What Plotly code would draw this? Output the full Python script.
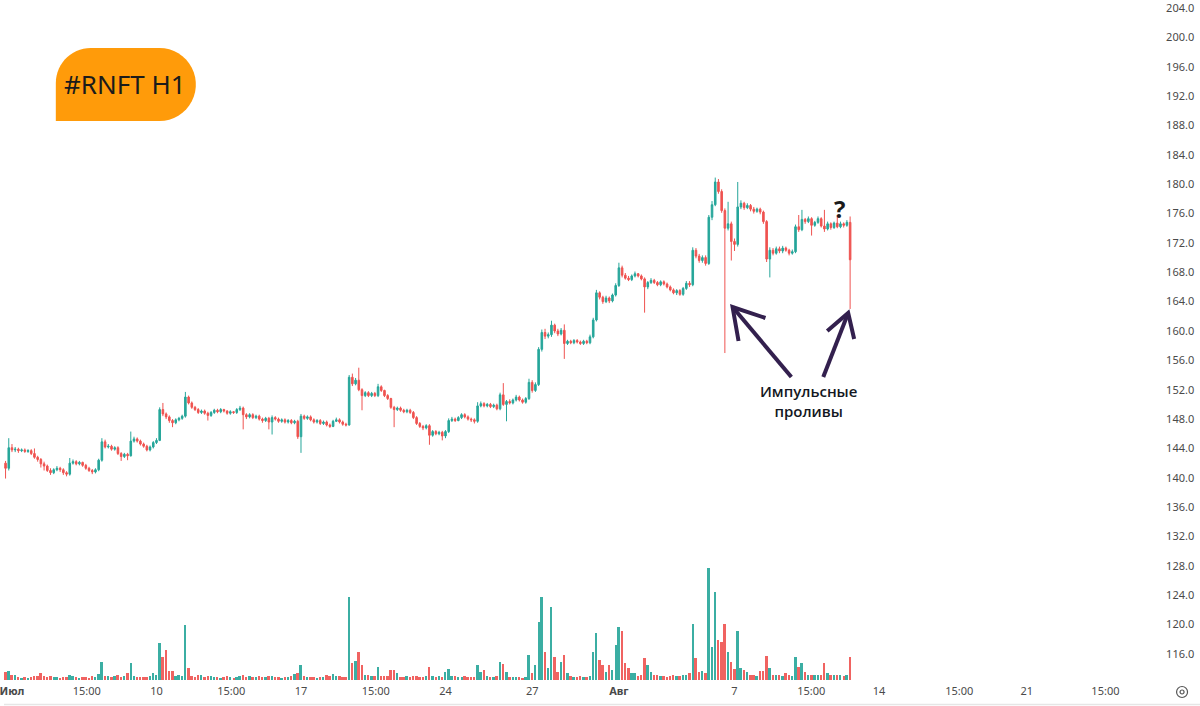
import numpy as np
import plotly.graph_objects as go

W, H = 1200, 706

# ---------------- data (hourly candles, index 0 = 3 Jul 10:00) ----------------
start_index = -3
opens = [
    142.2, 142.0, 141.3,
    144.1, 143.8, 143.9, 143.7, 143.8, 143.6, 143.7, 143.3, 142.8,
    142.5, 141.9, 141.6, 141.0, 140.7, 141.1, 141.3, 141.1, 140.7,
    140.5, 142.0, 142.2, 141.9, 142.1, 141.7, 141.3, 141.0, 140.8,
    141.1, 142.4, 144.9, 144.2, 144.3, 143.9, 144.1, 143.3, 142.9,
    143.2, 143.0, 145.0, 145.3, 145.0, 144.6, 144.3, 143.8, 144.2,
    144.8, 145.1, 149.3, 148.7, 148.3, 147.8, 147.5, 147.9, 148.1,
    148.4, 151.0, 150.2, 149.6, 149.3, 148.9, 149.1, 148.8, 148.5,
    148.9, 149.2, 149.0, 149.3, 149.1, 148.8, 149.0, 148.9, 149.3,
    149.5, 148.6, 148.3, 148.6, 148.2, 148.4, 148.0, 147.8, 148.1,
    147.6, 148.2, 148.0, 147.7, 147.9, 147.6, 147.8, 147.5, 147.7,
    145.6, 148.4, 148.1, 148.3, 147.9, 147.6, 147.8, 147.4, 147.6,
    147.2, 147.0, 147.7, 147.9, 147.6, 147.3, 147.2, 153.7, 152.8,
    153.3, 152.0, 151.2, 151.6, 151.2, 151.5, 151.2, 152.4, 151.9,
    151.2, 150.8, 149.6, 149.3, 149.5, 149.2, 149.0, 149.2, 148.9,
    148.2, 147.4, 147.0, 146.8, 147.1, 145.8, 146.3, 146.0, 146.2,
    145.7, 146.3, 147.8, 148.0, 147.8, 148.2, 148.6, 148.3, 148.0,
    147.9, 147.7, 149.8, 150.1, 149.8, 150.0, 149.7, 149.9, 149.4,
    151.3, 150.0, 150.4, 150.2, 150.6, 151.0, 150.6, 150.3, 150.8,
    153.0, 151.9, 152.7, 157.5, 159.8, 159.3, 159.5, 160.8, 160.0,
    159.6, 160.1, 158.3, 158.6, 158.4, 158.7, 158.5, 158.3, 158.6,
    158.4, 159.2, 161.5, 165.2, 164.6, 164.0, 164.5, 164.1, 164.9,
    166.2, 168.6, 167.6, 167.2, 167.0, 167.5, 167.8, 167.5, 167.1,
    166.0, 166.6, 166.9, 166.6, 166.3, 166.7, 166.4, 166.0, 165.6,
    165.2, 165.5, 165.0, 165.8, 166.5, 166.3, 171.0, 170.2, 169.6,
    170.0, 169.2, 175.5, 177.2, 180.3, 179.0, 176.4, 174.0, 174.6,
    172.2, 171.8, 176.9, 177.4, 176.8, 177.1, 176.6, 176.3, 176.6,
    176.2, 174.9, 169.8, 171.0, 170.6, 171.2, 170.9, 171.3, 171.0,
    170.6, 170.8, 174.2, 173.8, 175.2, 174.9, 175.3, 174.4, 174.8,
    175.3, 174.3, 173.9, 174.6, 174.1, 174.7, 174.2, 174.6, 174.4,
    174.8,
]
highs = [
    142.6, 142.3, 145.4,
    144.6, 144.2, 144.1, 144.0, 144.0, 143.9, 143.9, 144.0, 143.0,
    142.7, 142.2, 141.8, 141.3, 141.3, 141.6, 141.5, 141.3, 140.9,
    142.7, 142.5, 142.4, 142.3, 142.2, 141.9, 141.5, 141.2, 141.3,
    142.6, 145.4, 145.2, 144.6, 144.5, 144.3, 144.3, 143.5, 143.4,
    143.4, 146.3, 145.6, 145.5, 145.2, 144.8, 144.5, 144.4, 145.0,
    145.4, 149.6, 150.2, 148.9, 148.5, 148.0, 148.1, 148.3, 148.6,
    151.7, 151.2, 150.4, 149.8, 149.5, 149.3, 149.3, 149.0, 149.1,
    149.4, 149.4, 149.5, 149.4, 149.2, 149.2, 149.1, 149.5, 149.8,
    149.7, 148.8, 148.8, 148.8, 148.6, 148.6, 148.2, 148.3, 148.3,
    148.5, 148.4, 148.2, 148.1, 148.1, 148.0, 148.0, 147.9, 147.9,
    148.7, 148.6, 148.5, 148.5, 148.1, 148.0, 148.0, 147.8, 147.8,
    147.4, 147.9, 148.2, 148.1, 147.8, 147.5, 154.0, 154.2, 153.6,
    155.0, 152.2, 151.8, 151.8, 151.7, 151.7, 152.8, 152.6, 152.0,
    151.4, 150.9, 149.8, 149.7, 149.7, 149.4, 149.4, 149.4, 149.1,
    148.4, 147.6, 147.2, 147.3, 147.3, 146.5, 146.5, 146.4, 146.4,
    146.5, 148.1, 148.3, 148.2, 148.4, 148.8, 148.8, 148.5, 148.2,
    148.1, 150.3, 150.4, 150.3, 150.2, 150.2, 150.1, 150.1, 151.6,
    152.9, 150.6, 150.7, 150.8, 151.3, 151.2, 150.8, 151.0, 153.5,
    153.3, 153.0, 157.8, 160.2, 160.3, 159.8, 161.4, 161.0, 160.3,
    160.4, 160.9, 158.8, 158.8, 158.9, 158.9, 158.7, 158.8, 158.8,
    159.5, 161.8, 165.6, 165.4, 164.8, 164.8, 164.7, 165.1, 166.5,
    169.3, 168.9, 167.9, 167.5, 167.7, 168.1, 167.9, 167.7, 167.3,
    166.8, 167.2, 167.1, 166.8, 166.9, 166.9, 166.6, 166.2, 165.8,
    165.7, 165.7, 166.0, 166.8, 166.8, 171.4, 171.3, 170.5, 170.3,
    170.3, 175.8, 177.7, 180.9, 180.7, 179.3, 176.7, 177.6, 174.9,
    172.6, 180.3, 177.8, 177.6, 177.4, 177.3, 176.9, 176.8, 176.8,
    176.4, 175.1, 171.4, 171.3, 171.5, 171.5, 171.6, 171.5, 171.2,
    171.1, 174.5, 175.8, 176.5, 175.4, 175.6, 175.5, 175.0, 175.6,
    175.5, 176.5, 174.9, 174.8, 174.9, 175.8, 174.9, 174.8, 175.1,
    175.6,
]
lows = [
    141.7, 139.9, 141.0,
    143.5, 143.5, 143.4, 143.5, 143.4, 143.4, 143.1, 142.6, 142.2,
    141.4, 141.0, 140.8, 140.4, 140.5, 140.9, 140.8, 140.4, 140.2,
    140.3, 141.8, 141.7, 141.7, 141.5, 141.1, 140.8, 140.5, 140.6,
    140.9, 142.2, 144.0, 144.0, 143.7, 143.7, 143.1, 142.3, 142.7,
    142.4, 142.9, 144.8, 144.8, 144.4, 144.1, 143.6, 143.6, 144.0,
    144.6, 145.0, 148.4, 148.0, 147.5, 146.9, 147.3, 147.7, 147.9,
    148.2, 150.0, 149.4, 149.1, 148.7, 148.7, 148.6, 147.8, 148.3,
    148.7, 148.8, 148.8, 148.9, 148.6, 148.6, 148.7, 148.7, 149.1,
    146.6, 148.0, 148.1, 148.0, 148.0, 147.8, 147.5, 147.6, 146.6,
    145.9, 147.8, 147.5, 147.5, 147.4, 147.4, 147.3, 147.3, 145.3,
    143.4, 147.9, 147.9, 147.7, 147.4, 147.4, 147.2, 147.2, 147.0,
    146.8, 146.9, 147.6, 147.4, 147.1, 147.0, 147.1, 152.5, 152.6,
    151.8, 149.2, 151.0, 151.0, 151.0, 151.0, 151.0, 151.7, 151.0,
    150.6, 149.4, 146.9, 149.1, 149.0, 148.8, 148.8, 148.7, 148.0,
    147.2, 146.8, 146.5, 146.6, 144.5, 145.6, 145.8, 145.8, 145.1,
    145.4, 146.1, 147.6, 147.6, 147.7, 148.0, 148.1, 147.8, 147.6,
    147.4, 147.5, 149.6, 149.6, 149.6, 149.5, 149.5, 149.2, 149.2,
    149.8, 147.7, 150.0, 150.0, 150.4, 150.4, 150.1, 150.1, 150.6,
    151.6, 151.7, 152.5, 157.2, 158.9, 159.0, 159.2, 159.7, 159.3,
    159.4, 156.2, 158.1, 158.2, 158.2, 158.3, 158.1, 158.1, 158.2,
    158.2, 159.0, 161.3, 164.3, 163.7, 163.8, 163.8, 163.9, 164.7,
    166.0, 167.3, 167.0, 166.8, 166.8, 167.3, 167.3, 166.9, 162.5,
    165.7, 166.4, 166.4, 166.1, 166.1, 166.2, 165.8, 165.4, 165.0,
    164.9, 164.8, 164.8, 165.6, 166.0, 166.1, 169.9, 169.3, 169.3,
    168.9, 169.0, 175.1, 177.0, 178.7, 176.1, 157.0, 173.7, 169.6,
    170.9, 171.5, 176.6, 176.5, 176.6, 176.3, 176.0, 176.1, 175.9,
    174.6, 169.4, 167.3, 170.3, 170.4, 170.6, 170.6, 170.8, 170.3,
    170.4, 170.6, 173.5, 173.6, 174.6, 174.7, 173.0, 174.2, 174.6,
    174.1, 173.5, 173.7, 173.8, 173.9, 174.0, 174.0, 174.1, 174.2,
    163.0,
]
closes = [
    142.0, 141.3, 144.1,
    143.8, 143.9, 143.7, 143.8, 143.6, 143.7, 143.3, 142.8, 142.5,
    141.9, 141.6, 141.0, 140.7, 141.1, 141.3, 141.1, 140.7, 140.5,
    142.0, 142.2, 141.9, 142.1, 141.7, 141.3, 141.0, 140.8, 141.1,
    142.4, 144.9, 144.2, 144.3, 143.9, 144.1, 143.3, 142.9, 143.2,
    143.0, 145.0, 145.3, 145.0, 144.6, 144.3, 143.8, 144.2, 144.8,
    145.1, 149.3, 148.7, 148.3, 147.8, 147.5, 147.9, 148.1, 148.4,
    151.0, 150.2, 149.6, 149.3, 148.9, 149.1, 148.8, 148.5, 148.9,
    149.2, 149.0, 149.3, 149.1, 148.8, 149.0, 148.9, 149.3, 149.5,
    148.6, 148.3, 148.6, 148.2, 148.4, 148.0, 147.8, 148.1, 147.6,
    148.2, 148.0, 147.7, 147.9, 147.6, 147.8, 147.5, 147.7, 145.6,
    148.4, 148.1, 148.3, 147.9, 147.6, 147.8, 147.4, 147.6, 147.2,
    147.0, 147.7, 147.9, 147.6, 147.3, 147.2, 153.7, 152.8, 153.3,
    152.0, 151.2, 151.6, 151.2, 151.5, 151.2, 152.4, 151.9, 151.2,
    150.8, 149.6, 149.3, 149.5, 149.2, 149.0, 149.2, 148.9, 148.2,
    147.4, 147.0, 146.8, 147.1, 145.8, 146.3, 146.0, 146.2, 145.7,
    146.3, 147.8, 148.0, 147.8, 148.2, 148.6, 148.3, 148.0, 147.9,
    147.7, 149.8, 150.1, 149.8, 150.0, 149.7, 149.9, 149.4, 151.3,
    150.0, 150.4, 150.2, 150.6, 151.0, 150.6, 150.3, 150.8, 153.0,
    151.9, 152.7, 157.5, 159.8, 159.3, 159.5, 160.8, 160.0, 159.6,
    160.1, 158.3, 158.6, 158.4, 158.7, 158.5, 158.3, 158.6, 158.4,
    159.2, 161.5, 165.2, 164.6, 164.0, 164.5, 164.1, 164.9, 166.2,
    168.6, 167.6, 167.2, 167.0, 167.5, 167.8, 167.5, 167.1, 166.0,
    166.6, 166.9, 166.6, 166.3, 166.7, 166.4, 166.0, 165.6, 165.2,
    165.5, 165.0, 165.8, 166.5, 166.3, 171.0, 170.2, 169.6, 170.0,
    169.2, 175.5, 177.2, 180.3, 179.0, 176.4, 174.0, 174.6, 172.2,
    171.8, 176.9, 177.4, 176.8, 177.1, 176.6, 176.3, 176.6, 176.2,
    174.9, 169.8, 171.0, 170.6, 171.2, 170.9, 171.3, 171.0, 170.6,
    170.8, 174.2, 173.8, 175.2, 174.9, 175.3, 174.4, 174.8, 175.3,
    174.3, 173.9, 174.6, 174.1, 174.7, 174.2, 174.6, 174.4, 174.8,
    169.7,
]
volumes = [
    6, 8, 9,
    5, 5, 3, 2, 3, 2, 3, 4, 4,
    7, 4, 3, 4, 3, 3, 2, 3, 3,
    5, 4, 3, 2, 3, 3, 2, 4, 3,
    6, 18, 4, 4, 3, 4, 5, 3, 4,
    7, 17, 4, 3, 3, 3, 3, 4, 7,
    5, 37, 23, 30, 9, 9, 4, 5, 4,
    55, 12, 4, 3, 5, 5, 3, 4, 4,
    3, 3, 2, 3, 4, 3, 2, 3, 4,
    5, 3, 4, 3, 3, 4, 3, 3, 4,
    4, 3, 3, 2, 3, 3, 4, 6, 7,
    15, 4, 3, 3, 3, 2, 3, 3, 5,
    4, 6, 4, 4, 3, 3, 83, 17, 19,
    28, 15, 5, 5, 4, 4, 13, 4, 4,
    4, 10, 10, 7, 3, 3, 4, 3, 4,
    4, 3, 3, 4, 13, 4, 3, 4, 3,
    8, 11, 4, 4, 3, 3, 4, 3, 3,
    3, 15, 8, 10, 4, 3, 3, 4, 18,
    16, 8, 3, 3, 3, 3, 2, 3, 25,
    7, 15, 58, 83, 28, 12, 73, 23, 8,
    18, 25, 7, 4, 3, 3, 4, 3, 3,
    4, 28, 47, 20, 15, 8, 15, 10, 35,
    53, 49, 17, 12, 7, 7, 4, 5, 22,
    15, 8, 5, 5, 4, 4, 3, 4, 5,
    4, 4, 5, 5, 7, 56, 22, 8, 9,
    7, 112, 33, 88, 40, 38, 56, 28, 18,
    11, 49, 12, 10, 8, 5, 5, 4, 9,
    9, 24, 12, 5, 5, 5, 4, 7, 5,
    4, 23, 13, 17, 8, 5, 5, 5, 5,
    5, 17, 7, 5, 5, 5, 5, 4, 5,
    23,
]

tick_labels = ["<b>Июл</b>", "15:00", "10", "15:00", "17", "15:00", "24", "27",
               "<b>Авг</b>", "7", "15:00", "14", "15:00", "21", "15:00"]
tick_positions = [0, 23.3, 45, 68.3, 90, 113.3, 135, 162, 189, 225, 248.9, 270, 295, 316, 340.5]

title_text = "#RNFT H1"
note_text = "Импульсные<br>проливы"

UP, DOWN = "#26a69a", "#ef5350"

# ---------------- figure ----------------
n = len(closes)
xs = list(range(start_index, start_index + n))
vol_colors = [UP if c >= o else DOWN for o, c in zip(opens, closes)]

fig = go.Figure()
fig.add_trace(go.Bar(
    x=xs, y=volumes, yaxis="y2", width=0.62,
    marker=dict(color=vol_colors, line=dict(width=0)), opacity=0.9,
    hoverinfo="skip", showlegend=False,
))
fig.add_trace(go.Candlestick(
    x=xs, open=opens, high=highs, low=lows, close=closes,
    increasing=dict(line=dict(color=UP, width=1), fillcolor=UP),
    decreasing=dict(line=dict(color=DOWN, width=1), fillcolor=DOWN),
    whiskerwidth=0, showlegend=False,
))

px_per = 3.222
x0px = 8.0
plot_right = 1165.0
x_range = [(0 - x0px) / px_per, (plot_right - x0px) / px_per]

axis_bottom_px = 683.0
def price_at(py):
    return 204 - (py - 8) / 7.3409

fig.update_layout(
    width=W, height=H,
    margin=dict(l=0, r=0, t=0, b=0),
    paper_bgcolor="white", plot_bgcolor="white",
    bargap=0,
    xaxis=dict(
        domain=[0, plot_right / W], range=x_range,
        rangeslider=dict(visible=False),
        showgrid=False, zeroline=False, showline=False,
        tickmode="array", tickvals=tick_positions, ticktext=tick_labels,
        ticks="", ticklabeloverflow="allow",
        tickfont=dict(family="Noto Sans", size=11, color="#4a4a4a"),
    ),
    yaxis=dict(
        domain=[1 - axis_bottom_px / H, 1], side="right",
        range=[price_at(axis_bottom_px), price_at(0)],
        showgrid=False, zeroline=False, showline=False,
        tick0=0, dtick=4, tickformat=".1f", ticks="", ticklabeloverflow="allow",
        tickfont=dict(family="Noto Sans", size=11, color="#4a4a4a"),
    ),
    yaxis2=dict(
        domain=[1 - axis_bottom_px / H, 1], overlaying="y",
        range=[-3, 680], visible=False, fixedrange=True,
    ),
    showlegend=False,
)

def X(px):
    return px / W

def Y(py):
    return 1 - py / H

# orange label box
pts = []
pts.append((52, 121))
pts.append((52, 83))
for a in np.linspace(np.pi, 1.5 * np.pi, 16):
    pts.append((87 + 35 * np.cos(a), 83 + 35 * np.sin(a)))
for a in np.linspace(-0.5 * np.pi, 0.5 * np.pi, 24):
    pts.append((156 + 36.5 * np.cos(a), 84.5 + 36.5 * np.sin(a)))
pts.append((52, 121))
path = "M " + " L ".join(f"{X(p[0]):.5f},{Y(p[1]):.5f}" for p in pts) + " Z"
shapes = [dict(type="path", xref="paper", yref="paper", path=path,
               fillcolor="#FF9B0A", line=dict(width=0), layer="above")]

ARROW = "#33204e"
def seg(a, b, w=4):
    return dict(type="line", xref="paper", yref="paper",
                x0=X(a[0]), y0=Y(a[1]), x1=X(b[0]), y1=Y(b[1]),
                line=dict(color=ARROW, width=w))

def vhead(w1, tip, w2):
    p = f"M {X(w1[0]):.5f},{Y(w1[1]):.5f} L {X(tip[0]):.5f},{Y(tip[1]):.5f} L {X(w2[0]):.5f},{Y(w2[1]):.5f}"
    return dict(type="path", xref="paper", yref="paper", path=p,
                line=dict(color=ARROW, width=4))

shapes += [
    seg((790, 377), (731, 307)),
    vhead((764, 318), (731, 307), (737, 341)),
    seg((822, 377), (847, 313)),
    vhead((826, 331), (847, 313), (853, 339)),
]

# settings icon & bottom separator
shapes += [
    dict(type="circle", xref="paper", yref="paper",
         x0=X(1176.5), x1=X(1187.5), y0=Y(697.5), y1=Y(686.5),
         line=dict(color="#555", width=1.2)),
    dict(type="circle", xref="paper", yref="paper",
         x0=X(1180), x1=X(1184), y0=Y(694), y1=Y(690),
         line=dict(color="#555", width=1.2)),
    dict(type="line", xref="paper", yref="paper", x0=0, x1=1, y0=Y(704.5), y1=Y(704.5),
         line=dict(color="#e6e6e6", width=1.5)),
]

annotations = [
    dict(xref="paper", yref="paper", x=X(121), y=Y(84), text=title_text, showarrow=False,
         font=dict(family="Noto Sans", size=26, color="#1b1b1b"), xanchor="center", yanchor="middle"),
    dict(xref="paper", yref="paper", x=X(807), y=Y(401), text=note_text, showarrow=False,
         font=dict(family="Open Sans", size=15, color="#131722", weight=600),
         xanchor="center", yanchor="middle", align="center"),
    dict(xref="paper", yref="paper", x=X(838), y=Y(208), text="<b>?</b>", showarrow=False,
         font=dict(family="Open Sans", size=24, color="#1b1b1b"), xanchor="center", yanchor="middle"),
]

fig.update_layout(shapes=shapes, annotations=annotations)
fig.write_html(
    "out.html",
    config={"displayModeBar": False},
    post_script="document.body.style.margin='0';document.body.style.overflow='hidden';",
)
